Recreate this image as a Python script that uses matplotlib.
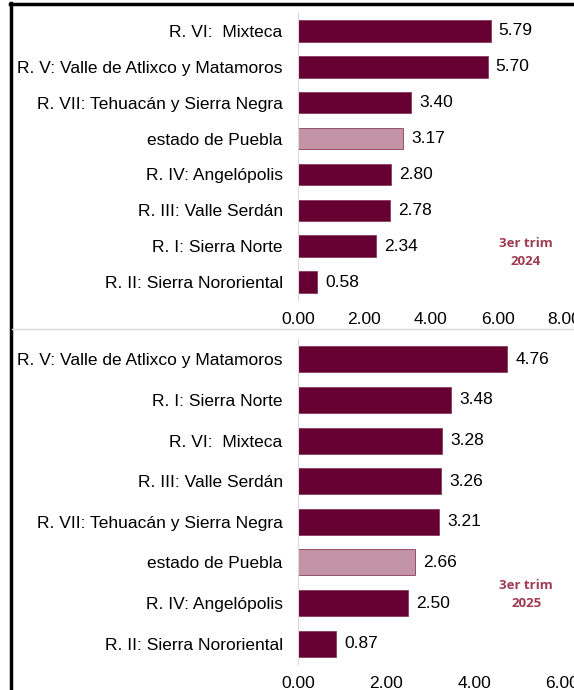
import matplotlib.pyplot as plt
from matplotlib.lines import Line2D

# 3er trim 2024
regions_2024 = ["R. VI:  Mixteca", "R. V: Valle de Atlixco y Matamoros",
                "R. VII: Tehuacán y Sierra Negra", "estado de Puebla",
                "R. IV: Angelópolis", "R. III: Valle Serdán",
                "R. I: Sierra Norte", "R. II: Sierra Nororiental"]
values_2024 = [5.79, 5.70, 3.40, 3.17, 2.80, 2.78, 2.34, 0.58]

# 3er trim 2025
regions_2025 = ["R. V: Valle de Atlixco y Matamoros", "R. I: Sierra Norte",
                "R. VI:  Mixteca", "R. III: Valle Serdán",
                "R. VII: Tehuacán y Sierra Negra", "estado de Puebla",
                "R. IV: Angelópolis", "R. II: Sierra Nororiental"]
values_2025 = [4.76, 3.48, 3.28, 3.26, 3.21, 2.66, 2.50, 0.87]

ticks_2024 = [0, 2, 4, 6, 8]
ticks_2025 = [0, 2, 4, 6]

dark = "#660033"
light = "#c294a5"
label_col = "#9c3b52"

plt.rcParams['font.family'] = ['Liberation Sans', 'DejaVu Sans']

W, H = 574, 690
fig = plt.figure(figsize=(W / 100, H / 100), dpi=100)


def px_axes(left, top, right, bottom):
    return fig.add_axes([left / W, 1 - bottom / H, (right - left) / W, (bottom - top) / H])


def panel(ax, names, vals, ticks, period, txt_pos, pad, bh):
    n = len(vals)
    colors = [light if nm == "estado de Puebla" else dark for nm in names]
    ypos = list(range(n))
    ax.barh(ypos, vals, height=bh, color=colors, edgecolor="#8a3d5c", linewidth=0.6)
    for y, v in zip(ypos, vals):
        ax.text(v + 0.24 * ticks[-1] / 8, y, f"{v:.2f}", va="center", ha="left", fontsize=12.5)
    ax.set_ylim(n - 0.5, -0.5)
    ax.set_xlim(0, ticks[-1])
    ax.set_yticks(ypos)
    ax.set_yticklabels(names, fontsize=12.5)
    ax.set_xticks(ticks)
    ax.set_xticklabels([f"{t:.2f}" for t in ticks], fontsize=12.5)
    ax.tick_params(length=0)
    ax.tick_params(axis="y", pad=11)
    ax.tick_params(axis="x", pad=pad)
    for s in ["top", "right", "bottom"]:
        ax.spines[s].set_visible(False)
    ax.spines["left"].set_color("#d9d9d9")
    ax.text(txt_pos[0], txt_pos[1], period, transform=ax.transAxes, ha="center", va="center",
            fontsize=9.5, fontweight="bold", color=label_col, family="Open Sans",
            linespacing=1.5)
    ax.set_facecolor("none")


ax1 = px_axes(298, 13, 564, 300)
panel(ax1, regions_2024, values_2024, ticks_2024, "3er trim\n2024", (0.855, 0.165), 9, 0.6)

ax2 = px_axes(298, 339, 562, 664)
panel(ax2, regions_2025, values_2025, ticks_2025, "3er trim\n2025", (0.865, 0.215), 9, 0.64)

# frame lines of the composite image
fig.add_artist(Line2D([11 / W, 11 / W], [0, 1 - 3 / H], color="black", linewidth=2.5))
fig.add_artist(Line2D([10 / W, 1], [1 - 4 / H, 1 - 4 / H], color="black", linewidth=2.5))
fig.add_artist(Line2D([12 / W, 1], [1 - 329 / H, 1 - 329 / H], color="#d9d9d9", linewidth=1))

fig.savefig("out.png", dpi=100, facecolor="white")
